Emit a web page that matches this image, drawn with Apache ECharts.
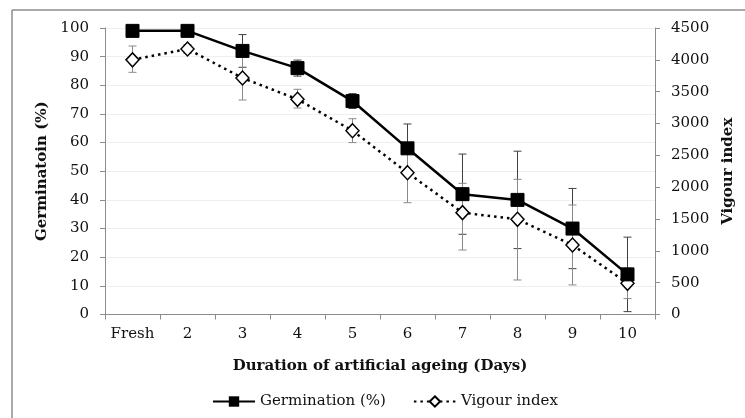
<!DOCTYPE html>
<html><head><meta charset="utf-8">
<script src="https://cdn.jsdelivr.net/npm/echarts@6/dist/echarts.min.js"></script>
<style>html,body{margin:0;padding:0;background:#fff}#c{width:745px;height:418px}</style>
</head><body><div id="c"></div>
<script>
const categories = ['Fresh','2','3','4','5','6','7','8','9','10'];
const germination = [99,99,92,86,74.5,58,42,40,30,14];
const germinationErr = [0.5,0.5,5.7,2.8,2.6,8.5,14,17,14,13];
const vigour = [4000,4170,3715,3380,2887,2227,1600,1495,1092,490];
const vigourLow = [3804,4100,3369,3243,2700,1756,1013,542,465,250];
const vigourHigh = [4217,4240,4060,3537,3075,2697,2060,2123,1720,730];
const leftTicks = [0,100,10];
const rightTicks = [0,4500,500];

const FONT = 'DejaVu Serif';
const FS = 15;
const germErrData = categories.map((c,i)=>[i, germination[i]-germinationErr[i], germination[i]+germinationErr[i]]);
const vigErrData = categories.map((c,i)=>[i, vigourLow[i], vigourHigh[i]]);

function errRenderer(color){
  return function(params, api){
    const lo = api.coord([api.value(0), api.value(1)]);
    const hi = api.coord([api.value(0), api.value(2)]);
    const w = 4;
    const st = {stroke: color, lineWidth: 1};
    return {type:'group', children:[
      {type:'line', shape:{x1:lo[0],y1:lo[1],x2:hi[0],y2:hi[1]}, style:st},
      {type:'line', shape:{x1:lo[0]-w,y1:lo[1],x2:lo[0]+w,y2:lo[1]}, style:st},
      {type:'line', shape:{x1:hi[0]-w,y1:hi[1],x2:hi[0]+w,y2:hi[1]}, style:st}
    ]};
  };
}

const axisLine = {show:true, lineStyle:{color:'#8c8c8c', width:1}};
const chart = echarts.init(document.getElementById('c'), null, {renderer:'canvas'});
chart.setOption({
  animation:false,
  backgroundColor:'#fff',
  grid:{left:105, right:90, top:28, bottom:103.5, containLabel:false},
  graphic:[
    {type:'line', shape:{x1:12,y1:10,x2:745,y2:10}, style:{stroke:'#8c8c8c', lineWidth:1.5}},
    {type:'line', shape:{x1:12,y1:10,x2:12,y2:418}, style:{stroke:'#8c8c8c', lineWidth:1.5}}
  ],
  legend:{
    left:207, top:389, itemGap:27, itemWidth:42, itemHeight:13,
    textStyle:{fontFamily:FONT, fontSize:FS, color:'#111'},
    data:['Germination (%)','Vigour index']
  },
  xAxis:{
    type:'category', data:categories, boundaryGap:true,
    axisLine:axisLine,
    axisTick:{show:true, length:5, interval:0, lineStyle:{color:'#8c8c8c'}},
    axisLabel:{fontFamily:FONT, fontSize:FS, color:'#111', margin:12, interval:0},
    name:'Duration of artificial ageing (Days)', nameLocation:'middle', nameGap:44,
    nameTextStyle:{fontFamily:FONT, fontSize:FS, fontWeight:'bold', color:'#111'}
  },
  yAxis:[
    {type:'value', min:leftTicks[0], max:leftTicks[1], interval:leftTicks[2],
     axisLine:axisLine,
     axisTick:{show:true, length:5, lineStyle:{color:'#8c8c8c'}},
     axisLabel:{fontFamily:FONT, fontSize:FS, color:'#111', margin:16},
     splitLine:{show:true, lineStyle:{color:'#efefef', width:1}},
     name:'Germinatoin (%)', nameLocation:'middle', nameGap:53, nameRotate:90,
     nameTextStyle:{fontFamily:FONT, fontSize:FS, fontWeight:'bold', color:'#111'}},
    {type:'value', min:rightTicks[0], max:rightTicks[1], interval:rightTicks[2], position:'right',
     axisLine:axisLine,
     axisTick:{show:true, length:5, lineStyle:{color:'#8c8c8c'}},
     axisLabel:{fontFamily:FONT, fontSize:FS, color:'#111', margin:16, formatter:v=>String(v)},
     splitLine:{show:false},
     name:'Vigour index', nameLocation:'middle', nameGap:66, nameRotate:90,
     nameTextStyle:{fontFamily:FONT, fontSize:FS, fontWeight:'bold', color:'#111'}}
  ],
  series:[
    {type:'custom', name:'germErr', yAxisIndex:0, z:1, renderItem:errRenderer('#404040'),
     encode:{x:0, y:[1,2]}, data:germErrData, silent:true},
    {type:'custom', name:'vigErr', yAxisIndex:1, z:1, renderItem:errRenderer('#8a8a8a'),
     encode:{x:0, y:[1,2]}, data:vigErrData, silent:true},
    {type:'line', name:'Vigour index', yAxisIndex:1, z:3, data:vigour,
     symbol:'diamond', symbolSize:[13,14],
     lineStyle:{color:'#000', width:2.5, type:[2.5,4]},
     itemStyle:{color:'#fff', borderColor:'#000', borderWidth:1.5}},
    {type:'line', name:'Germination (%)', yAxisIndex:0, z:4, data:germination,
     symbol:'rect', symbolSize:13,
     lineStyle:{color:'#000', width:2.5},
     itemStyle:{color:'#000', borderColor:'#000'}}
  ]
});
</script></body></html>
